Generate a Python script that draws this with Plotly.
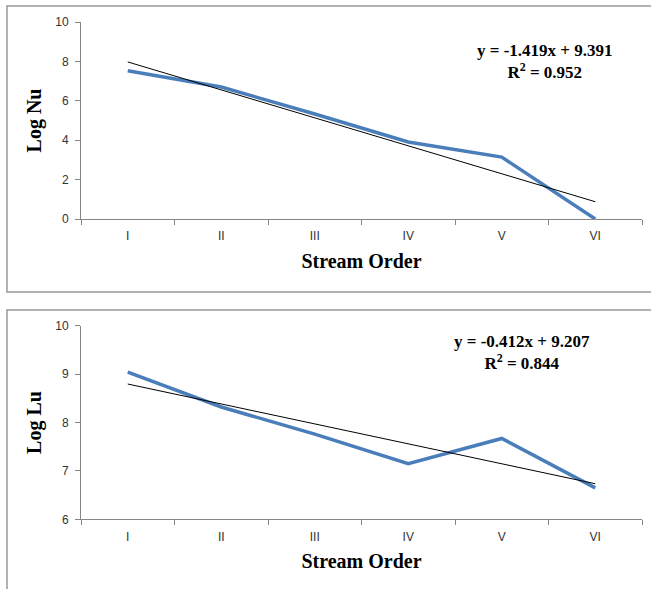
import plotly.graph_objects as go

orders = ["I", "II", "III", "IV", "V", "VI"]
log_nu = [7.53, 6.70, 5.33, 3.91, 3.14, 0.00]
log_lu = [9.04, 8.32, 7.76, 7.15, 7.67, 6.65]
nu_slope, nu_intercept, nu_r2 = -1.419, 9.391, 0.952
lu_slope, lu_intercept, lu_r2 = -0.412, 9.207, 0.844
nu_ticks = [0, 2, 4, 6, 8, 10]
lu_ticks = [6, 7, 8, 9, 10]

W, H = 651, 589
def py(p):  # pixel y -> paper
    return 1 - p / H
def px(p):
    return p / W

blue = "#4A7EBB"
gray = "#868686"
tick_font = dict(family="Liberation Sans, Arial", size=12, color="#333333")
title_font = dict(family="Liberation Serif, Times New Roman", size=20, color="black")
eq_font = dict(family="Liberation Serif, Times New Roman", size=17, color="black")

fig = go.Figure()

idx = list(range(1, len(orders) + 1))
nu_trend = [nu_slope * i + nu_intercept for i in idx]
lu_trend = [lu_slope * i + lu_intercept for i in idx]

fig.add_trace(go.Scatter(x=orders, y=log_nu, mode="lines", line=dict(color=blue, width=3.5),
                         xaxis="x", yaxis="y", showlegend=False))
fig.add_trace(go.Scatter(x=orders, y=nu_trend, mode="lines", line=dict(color="black", width=1),
                         xaxis="x", yaxis="y", showlegend=False))
fig.add_trace(go.Scatter(x=orders, y=log_lu, mode="lines", line=dict(color=blue, width=3.5),
                         xaxis="x2", yaxis="y2", showlegend=False))
fig.add_trace(go.Scatter(x=orders, y=lu_trend, mode="lines", line=dict(color="black", width=1),
                         xaxis="x2", yaxis="y2", showlegend=False))

xcommon = dict(type="category", range=[-0.5, 5.5], showline=True, linecolor=gray, linewidth=1,
               ticks="outside", tickson="boundaries", ticklen=5, tickcolor=gray,
               showgrid=False, zeroline=False, tickfont=tick_font, fixedrange=True,
               domain=[px(81), px(642)], ticklabelstandoff=6, automargin=False)
ycommon = dict(showline=True, linecolor=gray, linewidth=1, ticks="outside", ticklen=5,
               tickcolor=gray, showgrid=False, zeroline=False, tickfont=tick_font,
               ticklabelstandoff=4, fixedrange=True, automargin=False)

def frame_path(top, bottom, left=7, right=W):
    # open frame: left, top, bottom edges (right edge lies outside the page)
    return (f"M {px(right)},{py(top)} L {px(left)},{py(top)} L {px(left)},{py(bottom)}"
            + (f" L {px(right)},{py(bottom)}" if bottom < H else ""))

fig.update_layout(
    width=W, height=H, margin=dict(l=0, r=0, t=0, b=0, autoexpand=False),
    paper_bgcolor="white", plot_bgcolor="white",
    xaxis=dict(xcommon, anchor="y",
               title=dict(text="<b>Stream Order</b>", font=title_font, standoff=11)),
    yaxis=dict(ycommon, anchor="x", range=[0, 10], tickvals=nu_ticks,
               domain=[py(219), py(22)],
               title=dict(text="<b>Log Nu</b>", font=title_font, standoff=8)),
    xaxis2=dict(xcommon, anchor="y2",
                title=dict(text="<b>Stream Order</b>", font=title_font, standoff=11)),
    yaxis2=dict(ycommon, anchor="x2", range=[6, 10], tickvals=lu_ticks,
                domain=[py(519.3), py(325.7)],
                title=dict(text="<b>Log Lu</b>", font=title_font, standoff=8)),
    shapes=[
        dict(type="path", xref="paper", yref="paper", path=frame_path(6, 292),
             line=dict(color="#999999", width=1.5)),
        dict(type="path", xref="paper", yref="paper", path=frame_path(310, H),
             line=dict(color="#999999", width=1.5)),
    ],
    annotations=[
        dict(text=f"<b>y = {nu_slope}x + {nu_intercept}<br>R<sup>2</sup> = {nu_r2}</b>",
             xref="paper", yref="paper", x=px(545), y=py(61.5), showarrow=False, font=eq_font,
             align="center", xanchor="center", yanchor="middle"),
        dict(text=f"<b>y = {lu_slope}x + {lu_intercept}<br>R<sup>2</sup> = {lu_r2}</b>",
             xref="paper", yref="paper", x=px(522), y=py(352.5), showarrow=False, font=eq_font,
             align="center", xanchor="center", yanchor="middle"),
    ],
)

fig.write_html("out.html", post_script="document.body.style.margin='0px';",
               config={"displayModeBar": False})
